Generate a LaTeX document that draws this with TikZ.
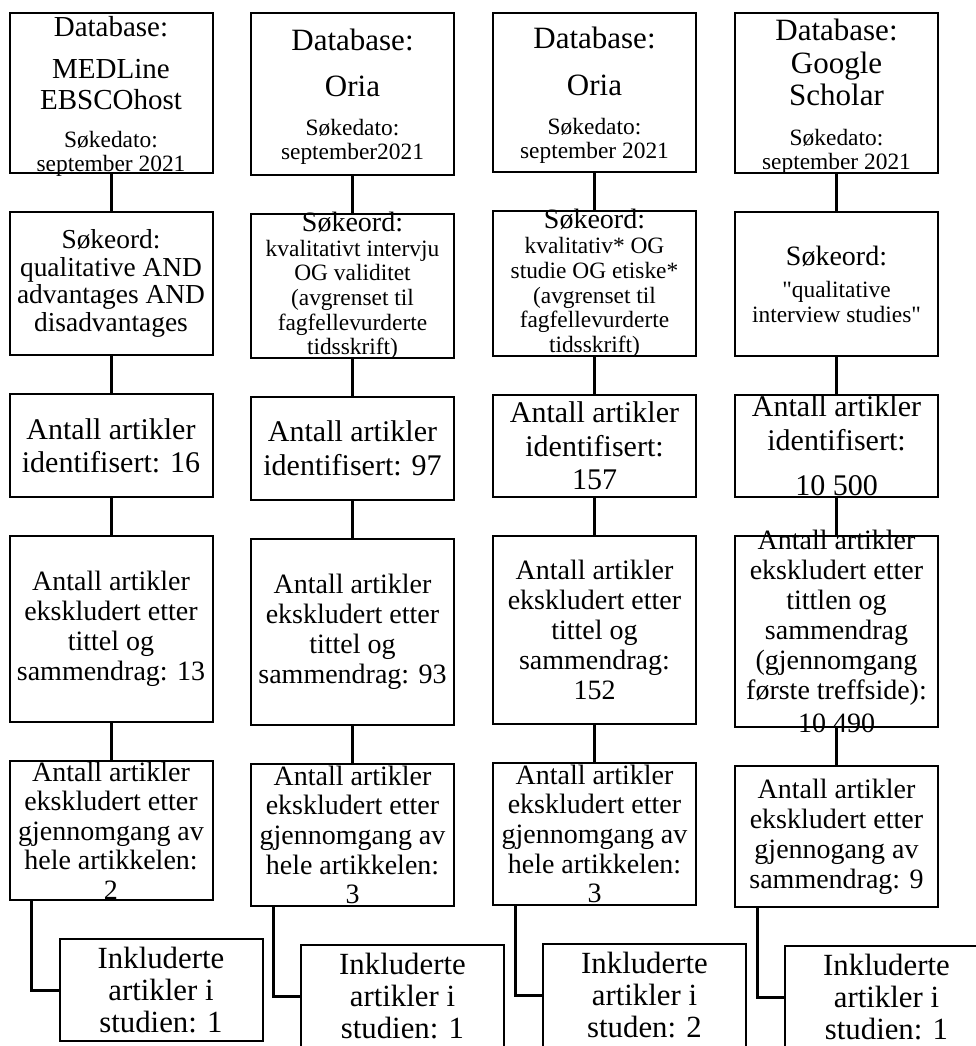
\documentclass[tikz,border=0pt]{standalone}
\usepackage{fontspec}
\setmainfont{Liberation Serif}
\usepackage{tikz}
\usetikzlibrary{positioning}
\newcommand{\fs}[2]{\fontsize{#1}{#2}\selectfont}
\newcommand{\boxtxt}[3][0pt]{\parbox[c][#2][c]{101.5pt}{\centering\vspace*{#1}#3}}
\tikzset{
node distance=19.5pt, % gap between two boxes in one column
box/.style={draw, line width=1pt, inner sep=0pt, outer sep=0pt}, % every box of the flow chart
link/.style={line width=1.5pt}, % the lines between the boxes
incl/.style={box, below=of #1, xshift=25pt}, % last box, pushed to the right
}

\begin{document}
\begin{tikzpicture}
    \clip (0,0) rectangle (488pt,-523pt);

    % MEDLine
    \node[box, anchor=north] (c1db) at (55.5pt,-6.5pt) {\boxtxt[3pt]{80pt}{{\fs{14.5}{15.5}Database:\par}\vspace{5.5pt}{\fs{14.5}{15.5}MEDLine\\EBSCOhost\par}\vspace{7pt}{\fs{11.7}{12}Søkedato:\\september 2021\par}}};
    \node[box, below=of c1db] (c1key) {\boxtxt{71.5pt}{\fs{13.7}{13.8}Søkeord:\\qualitative AND\\advantages AND\\disadvantages}};
    \node[box, below=of c1key] (c1id) {\boxtxt{51.5pt}{\fs{15}{16.3}Antall artikler\\identifisert: 16}};
    \node[box, below=of c1id] (c1ex) {\boxtxt{93pt}{\fs{14}{15}Antall artikler\\ekskludert etter\\tittel og\\sammendrag: 13}};
    \node[box, below=of c1ex] (c1full) {\boxtxt{69.5pt}{\fs{14}{14.8}Antall artikler\\ekskludert etter\\gjennomgang av\\hele artikkelen:\\2}};
    \node[incl=c1full] (c1inc) {\boxtxt{51pt}{\fs{15.4}{16}Inkluderte\\artikler i\\studien: 1}};

    % Oria 1
    \node[box, anchor=north] (c2db) at (176.25pt,-6.5pt) {\boxtxt[3pt]{81pt}{{\fs{15.5}{16}Database:\par}\vspace{7pt}{\fs{15.5}{16}Oria\par}\vspace{7pt}{\fs{11.7}{12.3}Søkedato:\\september2021\par}}};
    \node[box, below=of c2db] (c2key) {\boxtxt{72pt}{{\fs{14}{14}Søkeord:\par}{\fs{11.7}{12.3}kvalitativt intervju\\OG validitet\\(avgrenset til\\fagfellevurderte\\tidsskrift)\par}}};
    \node[box, below=of c2key] (c2id) {\boxtxt{51.5pt}{\fs{15}{17}Antall artikler\\identifisert: 97}};
    \node[box, below=of c2id] (c2ex) {\boxtxt{93pt}{\fs{14}{15}Antall artikler\\ekskludert etter\\tittel og\\sammendrag: 93}};
    \node[box, below=of c2ex] (c2full) {\boxtxt{71pt}{\fs{14}{14.8}Antall artikler\\ekskludert etter\\gjennomgang av\\hele artikkelen:\\3}};
    \node[incl=c2full] (c2inc) {\boxtxt{51pt}{\fs{15.4}{16}Inkluderte\\artikler i\\studien: 1}};

    % Oria 2
    \node[box, anchor=north] (c3db) at (297.25pt,-6.5pt) {\boxtxt[3pt]{79.5pt}{{\fs{15.5}{16}Database:\par}\vspace{7.5pt}{\fs{15.5}{16}Oria\par}\vspace{7pt}{\fs{11.7}{12.3}Søkedato:\\september 2021\par}}};
    \node[box, below=of c3db] (c3key) {\boxtxt{72.5pt}{{\fs{14}{14}Søkeord:\par}{\fs{11.7}{12.4}kvalitativ* OG\\studie OG etiske*\\(avgrenset til\\fagfellevurderte\\tidsskrift)\par}}};
    \node[box, below=of c3key] (c3id) {\boxtxt{51pt}{\fs{15}{16.7}Antall artikler\\identifisert:\\157}};
    \node[box, below=of c3id] (c3ex) {\boxtxt{94pt}{\fs{14}{15}Antall artikler\\ekskludert etter\\tittel og\\sammendrag:\\152}};
    \node[box, below=of c3ex] (c3full) {\boxtxt{71pt}{\fs{14}{14.8}Antall artikler\\ekskludert etter\\gjennomgang av\\hele artikkelen:\\3}};
    \node[incl=c3full] (c3inc) {\boxtxt{51.5pt}{\fs{15.4}{16}Inkluderte\\artikler i\\studen: 2}};

    % Google Scholar
    \node[box, anchor=north] (c4db) at (418.25pt,-6.5pt) {\boxtxt[4pt]{80pt}{{\fs{15.5}{16.3}Database:\\Google\\Scholar\par}\vspace{8pt}{\fs{11.7}{12}Søkedato:\\september 2021\par}}};
    \node[box, below=of c4db] (c4key) {\boxtxt{72pt}{{\fs{14}{14}Søkeord:\par}\vspace{3.5pt}{\fs{11.7}{12.5}\textquotedbl qualitative\\interview studies\textquotedbl\par}}};
    \node[box, below=of c4key] (c4id) {\boxtxt{51pt}{\fs{15}{17}Antall artikler\\identifisert:\\[5.5pt]10 500}};
    \node[box, below=of c4id] (c4ex) {\boxtxt{95.5pt}{\fs{14}{15}Antall artikler\\ekskludert etter\\tittlen og\\sammendrag\\(gjennomgang\\første treffside):\\[1.5pt]10 490}};
    \node[box, below=of c4ex] (c4full) {\boxtxt{70.5pt}{\fs{14}{15}Antall artikler\\ekskludert etter\\gjennogang av\\sammendrag: 9}};
    \node[incl=c4full] (c4inc) {\boxtxt{51pt}{\fs{15.4}{16}Inkluderte\\artikler i\\studien: 1}};

    \foreach \c in {c1,c2,c3,c4} {
        \draw[link] (\c db) -- (\c key);
        \draw[link] (\c key) -- (\c id);
        \draw[link] (\c id) -- (\c ex);
        \draw[link] (\c ex) -- (\c full);
        \draw[link] ([xshift=11pt]\c full.south west) |- (\c inc.west);
    }
\end{tikzpicture}
\end{document}
